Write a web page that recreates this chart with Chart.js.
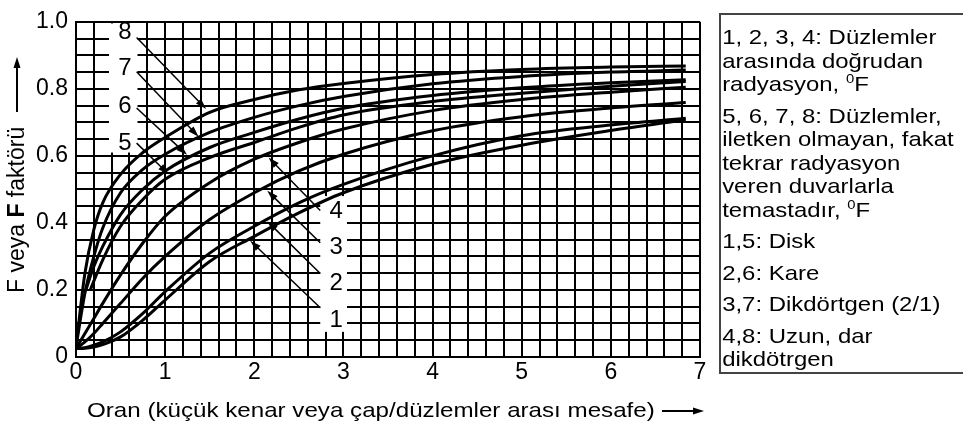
<!DOCTYPE html>
<html lang="tr">
<head>
<meta charset="utf-8">
<script src="https://cdn.jsdelivr.net/npm/chart.js@4.4.1/dist/chart.umd.min.js"></script>
<style>
  body { margin: 0; background: #fff; font-family: "Liberation Sans", Arial, sans-serif; color: #000; }
  #sahne { position: relative; width: 963px; height: 425px; overflow: hidden; }
  #grafik { position: absolute; left: 0; top: 0; }
  #yBaslik { position: absolute; left: 5px; top: 293px; transform-origin: 0 0; transform: rotate(-90deg);
             font-size: 23px; line-height: 23px; white-space: nowrap; }
  #xBaslik { position: absolute; left: 87px; top: 398px; font-size: 21px; line-height: 24px;
             white-space: nowrap; transform-origin: 0 0; transform: scaleX(1.15); }
  .ok { position: absolute; }
  #aciklama { position: absolute; left: 719px; top: 13px; width: 300px; height: 361px;
              border: 2px solid #444; box-sizing: border-box; }
  #aciklama .ic { transform-origin: 0 0; transform: scaleX(1.14); font-size: 21px; line-height: 23.5px;
                  padding-top: 10px; padding-left: 1px; white-space: nowrap; }
  #aciklama p { margin: 0 0 8px 0; }
  sup { font-size: 13px; line-height: 0; vertical-align: 8px; }
</style>
</head>
<body>
<div id="sahne">
  <canvas id="grafik" width="963" height="425"></canvas>

  <div id="yBaslik">F veya <b>F</b> faktörü</div>
  <svg class="ok" style="left:10px; top:57px" width="14" height="55">
    <line x1="7" y1="9" x2="7" y2="55" stroke="#000" stroke-width="2"/>
    <polygon points="7,0 3.5,11 10.5,11" fill="#000"/>
  </svg>

  <div id="xBaslik">Oran (küçük kenar veya çap/düzlemler arası mesafe)</div>
  <svg class="ok" style="left:662px; top:405px" width="42" height="12">
    <line x1="0" y1="6" x2="33" y2="6" stroke="#000" stroke-width="2"/>
    <polygon points="42,6 31,2.5 31,9.5" fill="#000"/>
  </svg>

  <div id="aciklama"><div class="ic">
    <p>1, 2, 3, 4: Düzlemler<br>arasında doğrudan<br>radyasyon, <sup>0</sup>F</p>
    <p>5, 6, 7, 8: Düzlemler,<br>iletken olmayan, fakat<br>tekrar radyasyon<br>veren duvarlarla<br>temastadır, <sup>0</sup>F</p>
    <p>1,5: Disk</p>
    <p>2,6: Kare</p>
    <p>3,7: Dikdörtgen (2/1)</p>
    <p>4,8: Uzun, dar<br>dikdötrgen</p>
  </div></div>
</div>

<script>
// Oran değerleri (x) ve F değerleri (y)
const oranlar = [0, 0.1, 0.2, 0.3, 0.5, 0.75, 1, 1.5, 2, 2.5, 3, 4, 5, 6, 6.84];
const oranlar5 = [0.16, 0.3, 0.5, 0.75, 1, 1.5, 2, 2.5, 3, 4, 5, 6, 6.84];
const oranlar6 = [0.11, 0.2, 0.3, 0.5, 0.75, 1, 1.5, 2, 2.5, 3, 4, 5, 6, 6.84];

const egri1 = [0.025, 0.026, 0.03, 0.037, 0.06, 0.11, 0.17, 0.285, 0.36, 0.43, 0.49, 0.575, 0.632, 0.676, 0.708];
const egri2 = [0.025, 0.028, 0.035, 0.045, 0.075, 0.13, 0.195, 0.31, 0.39, 0.46, 0.515, 0.6, 0.66, 0.692, 0.712];
const egri3 = [0.025, 0.045, 0.07, 0.1, 0.16, 0.235, 0.3, 0.41, 0.49, 0.555, 0.605, 0.675, 0.717, 0.743, 0.759];
const egri4 = [0.025, 0.07, 0.115, 0.16, 0.245, 0.34, 0.42, 0.52, 0.59, 0.64, 0.68, 0.735, 0.768, 0.79, 0.805];
const egri5 = [0.2, 0.29, 0.39, 0.47, 0.53, 0.595, 0.64, 0.685, 0.722, 0.762, 0.787, 0.808, 0.822];
const egri6 = [0.2, 0.27, 0.33, 0.425, 0.5, 0.555, 0.625, 0.67, 0.71, 0.742, 0.78, 0.803, 0.818, 0.827];
const egri7 = [0.03, 0.19, 0.3, 0.385, 0.49, 0.56, 0.605, 0.67, 0.715, 0.75, 0.777, 0.815, 0.837, 0.85, 0.856];
const egri8 = [0.03, 0.25, 0.38, 0.46, 0.545, 0.61, 0.655, 0.73, 0.768, 0.797, 0.816, 0.843, 0.858, 0.865, 0.868];

const xEtiketleri = ['0', '1', '2', '3', '4', '5', '6', '7'];
const yEtiketleri = ['0', '0.2', '0.4', '0.6', '0.8', '1.0'];
const egriAdlari = ['1', '2', '3', '4', '5', '6', '7', '8'];

// Eğri numaraları ve okları (veri birimlerinde)
const numaraYerleri = [
  [2.92, 0.108], [2.92, 0.22], [2.92, 0.327], [2.92, 0.434],
  [0.55, 0.638], [0.55, 0.749], [0.55, 0.861], [0.55, 0.968]
];
const oklar = [
  [2.74, 0.147, 1.955, 0.347], [2.74, 0.249, 2.146, 0.405], [2.74, 0.341, 2.146, 0.496], [2.74, 0.437, 2.16, 0.595],
  [0.68, 0.638, 1.04, 0.545], [0.68, 0.743, 1.245, 0.603], [0.68, 0.851, 1.375, 0.657], [0.68, 0.953, 1.46, 0.74]
];
// numaraların arkasındaki beyaz alanlar: x1, x2, y1, y2
const bosAlanlar = [[0.37, 0.69, 0.61, 0.995], [2.74, 3.04, 0.075, 0.48]];

const yazi = '"Liberation Sans", Arial, sans-serif';

function noktalar(xs, ys) {
  return xs.map((x, i) => ({ x: x, y: ys[i] }));
}

const seriler = [
  noktalar(oranlar, egri1), noktalar(oranlar, egri2), noktalar(oranlar, egri3), noktalar(oranlar, egri4),
  noktalar(oranlar5, egri5), noktalar(oranlar6, egri6), noktalar(oranlar, egri7), noktalar(oranlar, egri8)
];

const etiketPlugin = {
  id: 'etiketler',
  beforeDatasetsDraw(chart) {
    const ctx = chart.ctx, sx = chart.scales.x, sy = chart.scales.y;
    ctx.save();
    ctx.fillStyle = '#fff';
    bosAlanlar.forEach(b => {
      const x1 = sx.getPixelForValue(b[0]), x2 = sx.getPixelForValue(b[1]);
      const y1 = sy.getPixelForValue(b[3]), y2 = sy.getPixelForValue(b[2]);
      ctx.fillRect(x1, y1, x2 - x1, y2 - y1);
    });
    ctx.restore();
  },
  afterDatasetsDraw(chart) {
    const ctx = chart.ctx, sx = chart.scales.x, sy = chart.scales.y;
    ctx.save();
    ctx.strokeStyle = '#000';
    ctx.fillStyle = '#000';
    ctx.lineWidth = 1.5;
    oklar.forEach(o => {
      const x1 = sx.getPixelForValue(o[0]), y1 = sy.getPixelForValue(o[1]);
      const x2 = sx.getPixelForValue(o[2]), y2 = sy.getPixelForValue(o[3]);
      const a = Math.atan2(y2 - y1, x2 - x1);
      ctx.beginPath();
      ctx.moveTo(x1, y1);
      ctx.lineTo(x2 - 8 * Math.cos(a), y2 - 8 * Math.sin(a));
      ctx.stroke();
      ctx.beginPath();
      ctx.moveTo(x2, y2);
      ctx.lineTo(x2 - 11 * Math.cos(a) + 3.5 * Math.sin(a), y2 - 11 * Math.sin(a) - 3.5 * Math.cos(a));
      ctx.lineTo(x2 - 11 * Math.cos(a) - 3.5 * Math.sin(a), y2 - 11 * Math.sin(a) + 3.5 * Math.cos(a));
      ctx.closePath();
      ctx.fill();
    });
    ctx.font = '24px ' + yazi;
    ctx.textAlign = 'center';
    ctx.textBaseline = 'middle';
    numaraYerleri.forEach((p, i) => {
      ctx.fillText(egriAdlari[i], sx.getPixelForValue(p[0]), sy.getPixelForValue(p[1]));
    });
    ctx.restore();
  }
};

new Chart(document.getElementById('grafik'), {
  type: 'scatter',
  data: {
    datasets: seriler.map((s, i) => ({
      label: egriAdlari[i],
      data: s,
      showLine: true,
      borderColor: '#000',
      borderWidth: 3,
      pointRadius: 0,
      cubicInterpolationMode: 'monotone'
    }))
  },
  options: {
    responsive: false,
    animation: false,
    devicePixelRatio: 1,
    layout: { padding: { top: 13, right: 263, left: 0, bottom: 0 } },
    plugins: { legend: { display: false }, tooltip: { enabled: false } },
    scales: {
      x: {
        type: 'linear', min: 0, max: 7,
        afterFit(s) { s.height = 68; },
        grid: { color: '#000', lineWidth: 2, drawTicks: false },
        border: { color: '#000', width: 2 },
        ticks: {
          stepSize: 0.2, autoSkip: false, maxRotation: 0, padding: 2, color: '#000',
          font: { size: 23, family: yazi },
          callback(v) {
            const i = Math.round(v);
            return Math.abs(v - i) < 1e-6 ? xEtiketleri[i] : '';
          }
        }
      },
      y: {
        type: 'linear', min: 0, max: 1,
        afterFit(s) { s.width = 76; },
        grid: { color: '#000', lineWidth: 2, drawTicks: false },
        border: { color: '#000', width: 2 },
        ticks: {
          stepSize: 0.05, autoSkip: false, padding: 8, color: '#000',
          font: { size: 23, family: yazi },
          callback(v) {
            const k = Math.round(v / 0.2);
            return Math.abs(v - k * 0.2) < 1e-6 ? yEtiketleri[k] : '';
          }
        }
      }
    }
  },
  plugins: [etiketPlugin]
});
</script>
</body>
</html>
